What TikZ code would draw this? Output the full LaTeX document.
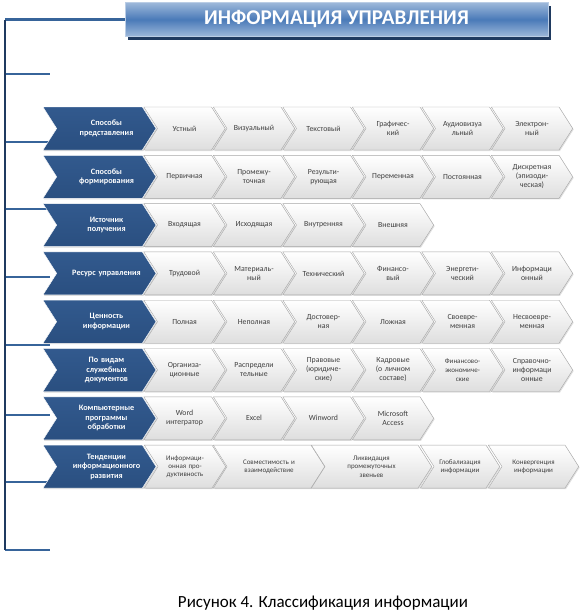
\documentclass[tikz,border=0pt]{standalone}
\usepackage{fontspec}
\setmainfont{Carlito}
\usetikzlibrary{shapes.symbols,shadows}

\definecolor{navy}{HTML}{1F3A60}
\definecolor{linkblue}{HTML}{37649A}
\definecolor{dkblue}{HTML}{2A4F80}
\definecolor{mdblue}{HTML}{4A7AB8}
\definecolor{ltblue}{HTML}{9DB8DA}

\tikzset{
  chev/.style={signal, signal to=east, signal from=west, signal pointer angle=115,
    minimum height=43pt, inner xsep=0pt, inner ysep=1pt, align=center},
  wchev/.style={chev, draw=black!35, top color=white, bottom color=black!13,
    minimum width=#1, text=black!75, font=\fontsize{7.8}{9}\selectfont,
    drop shadow={shadow xshift=1pt, shadow yshift=-1pt, opacity=0.25}},
  wchev/.default=77pt,
  dchev/.style={chev, draw=white, top color=dkblue!75!mdblue, bottom color=dkblue,
    minimum width=113pt, text width=82pt, text=white,
    font=\fontsize{8.2}{9.5}\selectfont\bfseries,
    execute at begin node={\advance\leftskip by 7pt\advance\rightskip by -7pt},
    drop shadow={shadow xshift=1pt, shadow yshift=-1pt, opacity=0.3}},
  tick/.style={linkblue, line width=2.5pt},
}

\begin{document}
\begin{tikzpicture}[x=1pt, y=-1pt]
\useasboundingbox (0,0) rectangle (587,613);

% trunk and ticks
\coordinate (trunktop) at (5,19.5);
\coordinate (trunkbot) at (5,550);
\foreach \y [count=\k] in {74,142,209,277,345,415,482,550} {
  \coordinate (tk\k) at (5,\y);
  \draw[tick] (tk\k) -- ++(45,0);
}

% title
\node[minimum width=423pt, minimum height=34pt, draw=ltblue!70,
  top color=ltblue, bottom color=ltblue, middle color=mdblue,
  drop shadow={shadow xshift=3pt, shadow yshift=-3pt, fill=navy, opacity=1},
  text=white, font=\fontsize{21}{23}\selectfont\bfseries] (head) at (336.5,19.5) {ИНФОРМАЦИЯ УПРАВЛЕНИЯ};
\draw[tick] (trunktop) -- (head.west);
\draw[navy, line width=2.5pt] (trunktop) -- (trunkbot);

% rows
\foreach \r/\lab/\items in {
  0/{Способы\\представления}/{Устный,Визуальный,Текстовый,Графичес-\\кий,Аудиовизуа\\льный,Электрон-\\ный},
  1/{Способы\\формирования}/{Первичная,Промежу-\\точная,Результи-\\рующая,Переменная,Постоянная,Дискретная\\(эпизоди-\\ческая)},
  2/{Источник\\получения}/{Входящая,Исходящая,Внутренняя,Внешняя},
  3/{Ресурс управления}/{Трудовой,Материаль-\\ный,Технический,Финансо-\\вый,Энергети-\\ческий,Информаци\\онный},
  4/{Ценность\\информации}/{Полная,Неполная,Достовер-\\ная,Ложная,Своевре-\\менная,Несвоевре-\\менная},
  5/{По видам\\служебных\\документов}/{Организа-\\ционные,Распредели\\тельные,Правовые\\(юридиче-\\ские),Кадровые\\(о личном\\составе),{\fontsize{7}{8.5}\selectfont Финансово-\\экономиче-\\ские},Справочно-\\информаци\\онные},
  6/{Компьютерные\\программы\\обработки}/{Word\\интегратор,Excel,Winword,Microsoft\\Access}} {
  \pgfmathsetmacro\yc{128.5+48.3*\r}
  \node[dchev] (cat\r) at (99.5,\yc) {\lab};
  \foreach \t [count=\i from 0] in \items {
    \node[wchev, text width=54pt] (it\r-\i) at ({184.5+69.5*\i},\yc) {\t};
  }
}

% last row, wider items
\node[dchev] (cat7) at (99.5,466.6) {Тенденции\\информационного\\развития};
\foreach \x/\w/\t [count=\i from 0] in {
  146/78/{Информаци-\\онная про-\\дуктивность},
  215/108/{Совместимость и\\взаимодействие},
  313/117/{Ликвидация\\промежуточных\\звеньев},
  422/76/{Глобализация\\информации},
  490/87/{Конвергенция\\информации}} {
  \pgfmathsetmacro\tw{\w-24}
  \node[wchev=\w pt, text width=\tw pt, font=\fontsize{7}{8.3}\selectfont] (it7-\i) at ({\x+\w/2},466.6) {\t};
}

% caption
\node[font=\fontsize{17}{20}\selectfont] (caption) at (323,603) {Рисунок 4. Классификация информации};
\end{tikzpicture}
\end{document}
